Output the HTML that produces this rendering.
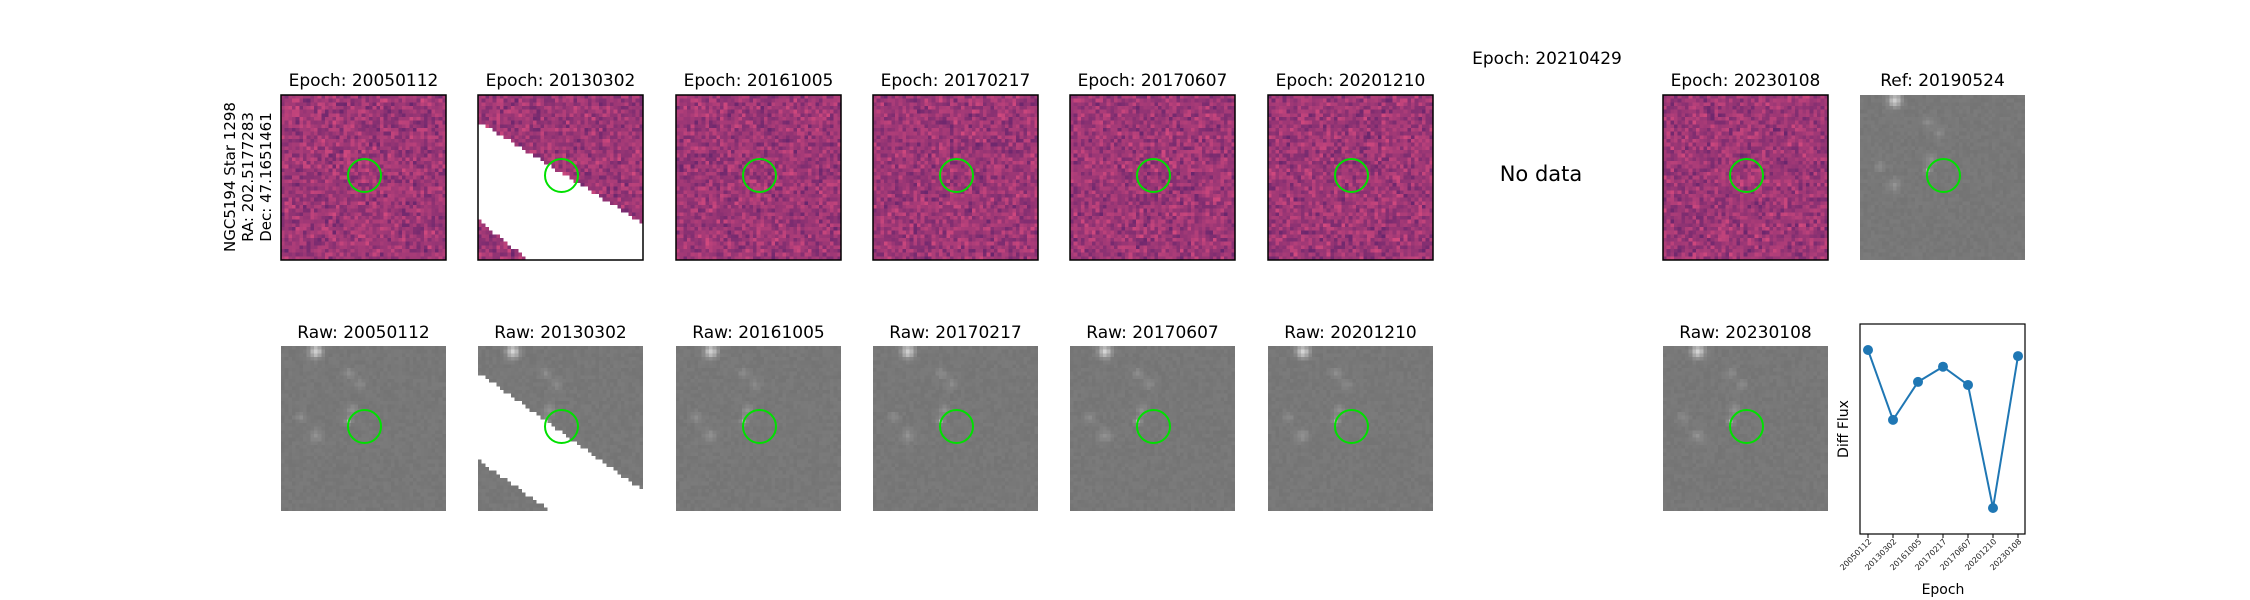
<!DOCTYPE html>
<html><head><meta charset="utf-8"><style>
body{margin:0;background:#fff;width:2250px;height:600px;overflow:hidden;position:relative;font-family:"DejaVu Sans","Liberation Sans",sans-serif}
canvas{position:absolute;image-rendering:pixelated}
svg{position:absolute;left:0;top:0}
</style></head><body>
<div id="imgs"></div>
<svg id="ov" width="2250" height="600"></svg>
<script>
const epochs=["20050112","20130302","20161005","20170217","20170607","20201210","20230108"];
const flux=[0.92,0.46,0.71,0.81,0.69,-0.12,0.88];
const NS="http://www.w3.org/2000/svg";
const ov=document.getElementById('ov');
function sv(tag,attrs,txt){const e=document.createElementNS(NS,tag);for(const k in attrs)e.setAttribute(k,attrs[k]);if(txt!==undefined)e.textContent=txt;ov.appendChild(e);return e;}
let seed=7;function rnd(){seed=(seed*16807)%2147483647;return seed/2147483647;}
const colsX=[281,478,676,873,1070,1268,null,1663,1860];
const W=165,N=45;
function panel(x,y,type,mask,border,name){
 const c=document.createElement('canvas');c.width=N;c.height=N;
 c.style.left=x+'px';c.style.top=y+'px';c.style.width=W+'px';c.style.height=W+'px';
 
 
 const g=c.getContext('2d');
 for(let j=0;j<N;j++)for(let i=0;i<N;i++){
  let col;
  if(mask&&mask(i,j)){col='#fff';}
  else if(type==='diff'){const n=(rnd()+rnd()-1)*0.45;
   const r=Math.max(0,Math.min(255,158+n*120)),gg=Math.max(0,Math.min(255,56+n*40)),b=Math.max(0,Math.min(255,118+n*20));
   col=`rgb(${r|0},${gg|0},${b|0})`;}
  else{let v=120+(rnd()-0.5)*8;
   const stars=[[9,1,90,1.2],[18,7,20,1],[21,10,18,1],[19,17,25,1],[5,19,20,1],[9,24,25,1.2],[18,20,60,0.6]];
   for(const s of stars){const d=(i-s[0])**2+(j-s[1])**2;v+=s[2]*Math.exp(-d/(2*s[3]*s[3]));}
   v=Math.min(255,v);col=`rgb(${v|0},${v|0},${v|0})`;}
  g.fillStyle=col;g.fillRect(i,j,1,1);}
 document.getElementById('imgs').appendChild(c);
 if(border)sv('rect',{x:x,y:y,width:W,height:W,fill:'none',stroke:'#000','stroke-width':1.5});
 sv('circle',{cx:x+W/2+1,cy:y+W/2-2,r:16.5,fill:'none',stroke:'#00e000','stroke-width':2});
}
const mask2=(i,j)=>(j>0.62*i+7 && j<0.78*i+34);
const mask2r=(i,j)=>(j>0.72*i+7 && j<0.7*i+31);
let k=0;
for(let c=0;c<9;c++){
 if(colsX[c]===null)continue;
 const x=colsX[c];
 if(c<8){
  const ep=epochs[k];
  panel(x,95,'diff',ep==='20130302'?mask2:null,true,'diff-image-'+ep);
  sv('text',{x:x+W/2,y:86,'text-anchor':'middle','font-size':17},'Epoch: '+ep);
  panel(x,346,'raw',ep==='20130302'?mask2r:null,false,'raw-image-'+ep);
  sv('text',{x:x+W/2,y:338,'text-anchor':'middle','font-size':17},'Raw: '+ep);
  k++;
 }else{
  panel(x,95,'raw',null,false,'ref-image');
  sv('text',{x:x+W/2,y:86,'text-anchor':'middle','font-size':17},'Ref: 20190524');
 }
}
sv('text',{x:1547,y:64,'text-anchor':'middle','font-size':17},'Epoch: 20210429');
sv('text',{x:1541,y:181,'text-anchor':'middle','font-size':21},'No data');
const lab=sv('text',{transform:'translate(0,177) rotate(-90)','text-anchor':'middle','font-size':15});

["NGC5194 Star 1298","RA: 202.5177283","Dec: 47.1651461"].forEach((t,i)=>{const ts=document.createElementNS(NS,'tspan');ts.setAttribute('x',0);ts.setAttribute('y',235+i*18);ts.textContent=t;lab.appendChild(ts);});
// light curve
const ax={l:1860,r:2025,t:324,b:534};
const xS=i=>1868+i*25;
const fmin=-0.12,fmax=0.92;
const yS=v=>508-(v-fmin)/(fmax-fmin)*(508-350);
sv('rect',{x:ax.l,y:ax.t,width:ax.r-ax.l,height:ax.b-ax.t,fill:'none',stroke:'#000','stroke-width':1.2});
sv('polyline',{points:flux.map((v,i)=>xS(i)+','+yS(v)).join(' '),fill:'none',stroke:'#1f77b4','stroke-width':2});
flux.forEach((v,i)=>{
 const p=sv('circle',{cx:xS(i),cy:yS(v),r:5,fill:'#1f77b4'});
 
 sv('line',{x1:xS(i),x2:xS(i),y1:ax.b,y2:ax.b+4,stroke:'#000'});
 const t=sv('text',{transform:`translate(${xS(i)+4},${ax.b+8}) rotate(-45)`,'text-anchor':'end','font-size':8,fill:'#222'},epochs[i]);
 
});
sv('text',{transform:'translate(1848,429) rotate(-90)','text-anchor':'middle','font-size':14},'Diff Flux');
sv('text',{x:1943,y:594,'text-anchor':'middle','font-size':14},'Epoch');
</script>
</body></html>
